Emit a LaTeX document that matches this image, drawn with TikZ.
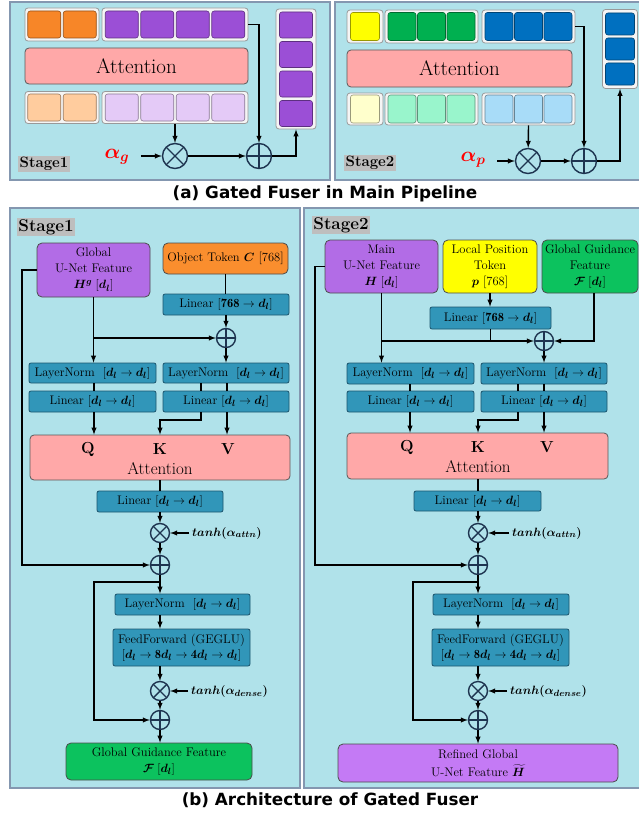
\documentclass[tikz,border=0pt]{standalone}
\usepackage{amsmath}
\usepackage{bm}
\usepackage{fontspec}
\usetikzlibrary{arrows}
\newfontfamily\capfont{DejaVu Sans}
\definecolor{panelbg}{RGB}{176,226,234}
\definecolor{panelline}{RGB}{132,151,176}
\definecolor{linfill}{RGB}{49,150,185}
\definecolor{linline}{RGB}{28,86,110}
\definecolor{attnfill}{RGB}{255,168,168}
\definecolor{opline}{RGB}{30,52,80}
\definecolor{hpurple}{RGB}{178,108,230}
\definecolor{rpurple}{RGB}{196,122,245}
\definecolor{objorange}{RGB}{250,142,46}
\definecolor{ggreen}{RGB}{12,194,94}
\definecolor{pyellow}{RGB}{255,255,0}
\definecolor{sqorange}{RGB}{247,134,40}
\definecolor{sqpurple}{RGB}{155,79,214}
\definecolor{sqlorange}{RGB}{255,204,158}
\definecolor{sqlpurple}{RGB}{228,202,247}
\definecolor{sqgreen}{RGB}{0,176,80}
\definecolor{sqblue}{RGB}{0,112,192}
\definecolor{sqlyellow}{RGB}{255,255,204}
\definecolor{sqlgreen}{RGB}{153,245,204}
\definecolor{sqlblue}{RGB}{168,220,248}
\definecolor{labgray}{RGB}{190,190,190}

\begin{document}
\begin{tikzpicture}[x=1pt,y=-1pt,
	panel/.style={draw=panelline, fill=panelbg, line width=1.5pt},
	tray/.style={draw=gray!80, fill=gray!8, rounded corners=3pt, line width=0.8pt, inner sep=0pt},
	tok/.style={rounded corners=2.5pt, line width=0.6pt, inner sep=0pt},
	stagelab/.style={fill=labgray, inner sep=1.5pt, font=\bfseries\fontsize{15}{16}\selectfont},
	linbox/.style={draw=linline, fill=linfill, rounded corners=2pt, line width=0.8pt, minimum height=21pt, inner sep=0pt, font=\fontsize{12.5}{15}\selectfont},
	attnbox/.style={draw=gray!70!black, fill=attnfill, rounded corners=4pt, line width=0.8pt, inner sep=0pt},
	featbox/.style={draw=black!70, rounded corners=5pt, line width=0.8pt, inner sep=0pt, align=center, font=\fontsize{12.5}{16}\selectfont},
	opcirc/.style={circle, draw=opline, line width=1.4pt, inner sep=0pt, minimum size=19pt},
	addop/.style={opcirc, path picture={\draw[opline, line width=1.4pt] (path picture bounding box.north) -- (path picture bounding box.south) (path picture bounding box.west) -- (path picture bounding box.east);}},
	mulop/.style={opcirc, path picture={\draw[opline, line width=1.4pt] (path picture bounding box.north west) -- (path picture bounding box.south east) (path picture bounding box.north east) -- (path picture bounding box.south west);}},
	arr/.style={-latex, line width=1.4pt},
	wire/.style={line width=1.4pt},
	gate/.style={anchor=west, inner sep=0pt, font=\fontsize{13}{14}\selectfont},
	qkv/.style={font=\bfseries\fontsize{16}{17}\selectfont}
	]
	\useasboundingbox (0,0) rectangle (639,816);
	\fill[white] (0,0) rectangle (639,816);

	\draw[panel] (10,2) rectangle (330,180);
	\node[tray, minimum width=74pt, minimum height=33pt] (a1ho) at (62,24.5) {};
	\node[tray, minimum width=146pt, minimum height=33pt] (a1hp) at (175,24.5) {};
	\node[tray, minimum width=74pt, minimum height=32pt] (a1bo) at (62,107.5) {};
	\node[tray, minimum width=146pt, minimum height=32pt] (a1bp) at (175,107.5) {};
	\foreach \i in {1,2} {
		\node[tok, minimum width=33pt, minimum height=27pt, fill=sqorange, draw=sqorange!60!black] (a1o\i) at ({62+(\i-1.5)*35.5},24.5) {};
		\node[tok, minimum width=33pt, minimum height=27pt, fill=sqlorange, draw=sqlorange!60!black] (a1lo\i) at ({62+(\i-1.5)*35.5},107.5) {};
	}
	\foreach \i in {1,...,4} {
		\node[tok, minimum width=33pt, minimum height=27pt, fill=sqpurple, draw=sqpurple!60!black] (a1p\i) at ({175+(\i-2.5)*35.5},24.5) {};
		\node[tok, minimum width=33pt, minimum height=27pt, fill=sqlpurple, draw=sqlpurple!60!black] (a1lp\i) at ({175+(\i-2.5)*35.5},107.5) {};
	}
	\node[attnbox, minimum width=223pt, minimum height=36pt, font=\fontsize{21}{22}\selectfont] (a1attn) at (136.5,66) {Attention};
	\node[tray, minimum width=40pt, minimum height=120pt] (a1col) at (296,69) {};
	\foreach \i/\y in {1/25,2/54.5,3/84,4/113.5}
		\node[tok, minimum width=33pt, minimum height=26pt, fill=sqpurple, draw=sqpurple!60!black] (a1c\i) at (296,\y) {};
	\node[mulop, minimum size=25pt] (a1mul) at (175,156) {};
	\node[addop, minimum size=25pt] (a1add) at (259,156) {};
	\node[text=red, font=\fontsize{20}{21}\selectfont] (a1alpha) at (117,157) {$\bm{\alpha_g}$};
	\node[stagelab] (a1stage) at (44,164) {Stage1};
	\draw[arr] ([xshift=8pt]a1alpha.east |- a1mul) -- (a1mul);
	\draw[arr] (a1bp.south) -- (a1mul);
	\draw[arr] (a1mul) -- (a1add);
	\draw[arr] (a1hp.east) -| (a1add);
	\draw[arr] (a1add) -| (a1col.south);

	\draw[panel] (335,2) rectangle (645,180);
	\node[tray, minimum width=36pt, minimum height=33pt] (a2hy) at (365,26.5) {};
	\node[tray, minimum width=93pt, minimum height=33pt] (a2hg) at (431.5,26.5) {};
	\node[tray, minimum width=93pt, minimum height=33pt] (a2hb) at (528.5,26.5) {};
	\node[tray, minimum width=36pt, minimum height=32pt] (a2by) at (365,109) {};
	\node[tray, minimum width=93pt, minimum height=32pt] (a2bg) at (431.5,109) {};
	\node[tray, minimum width=93pt, minimum height=32pt] (a2bb) at (528.5,109) {};
	\node[tok, minimum width=29pt, minimum height=28pt, fill=pyellow, draw=pyellow!60!black] (a2y) at (365,26.5) {};
	\node[tok, minimum width=29pt, minimum height=28pt, fill=sqlyellow, draw=sqlyellow!60!black] (a2ly) at (365,109) {};
	\foreach \i in {1,2,3} {
		\node[tok, minimum width=28pt, minimum height=28pt, fill=sqgreen, draw=sqgreen!60!black] (a2g\i) at ({431.5+(\i-2)*29.5},26.5) {};
		\node[tok, minimum width=28pt, minimum height=28pt, fill=sqblue, draw=sqblue!60!black] (a2b\i) at ({528.5+(\i-2)*29.5},26.5) {};
		\node[tok, minimum width=28pt, minimum height=28pt, fill=sqlgreen, draw=sqlgreen!60!black] (a2lg\i) at ({431.5+(\i-2)*29.5},109) {};
		\node[tok, minimum width=28pt, minimum height=28pt, fill=sqlblue, draw=sqlblue!60!black] (a2lb\i) at ({528.5+(\i-2)*29.5},109) {};
	}
	\node[attnbox, minimum width=225pt, minimum height=37pt, font=\fontsize{21}{22}\selectfont] (a2attn) at (459.5,68.5) {Attention};
	\node[tray, minimum width=35pt, minimum height=79pt] (a2col) at (620,49) {};
	\foreach \i/\y in {1/24,2/49,3/74}
		\node[tok, minimum width=29pt, minimum height=22pt, fill=sqblue, draw=sqblue!60!black] (a2c\i) at (620,\y) {};
	\node[mulop, minimum size=25pt] (a2mul) at (528,161) {};
	\node[addop, minimum size=25pt] (a2add) at (584,161) {};
	\node[text=red, font=\fontsize{20}{21}\selectfont] (a2alpha) at (473,160) {$\bm{\alpha_p}$};
	\node[stagelab] (a2stage) at (370,163) {Stage2};
	\draw[arr] ([xshift=8pt]a2alpha.east |- a2mul) -- (a2mul);
	\draw[arr] (a2bb.south) -- (a2mul);
	\draw[arr] (a2mul) -- (a2add);
	\draw[arr] (a2hb.east) -| (a2add);
	\draw[arr] (a2add) -| (a2col.south);

	\node[font=\capfont\bfseries\fontsize{16.8}{18}\selectfont] (capa) at (325,194) {(a) Gated Fuser in Main Pipeline};

	\draw[panel] (10,208) rectangle (300,788);
	\node[stagelab, font=\bfseries\fontsize{17}{18}\selectfont] (b1stage) at (46,227) {Stage1};
	\node[featbox, fill=hpurple, minimum width=113pt, minimum height=54pt] (hg) at (93.5,270) {Global\\U-Net Feature\\$\bm{H^g}\;[\bm{d_l}]$};
	\node[featbox, fill=objorange, minimum width=125pt, minimum height=31pt] (obj) at (225.5,258.5) {Object Token $\bm{C}$ [768]};
	\node[linbox, minimum width=126pt] (linC) at (226,304.5) {Linear $[\mathbf{768}\rightarrow\bm{d_l}]$};
	\node[addop] (addC) at (226,338) {};
	\node[linbox, minimum width=127pt, minimum height=20pt] (lnQ) at (92.5,373) {LayerNorm\ \ $[\bm{d_l}\rightarrow\bm{d_l}]$};
	\node[linbox, minimum width=126pt, minimum height=20pt] (lnKV) at (226,373) {LayerNorm\ \ $[\bm{d_l}\rightarrow\bm{d_l}]$};
	\node[linbox, minimum width=127pt] (linQ) at (92.5,401.5) {Linear $[\bm{d_l}\rightarrow\bm{d_l}]$};
	\node[linbox, minimum width=126pt] (linKV) at (226,401.5) {Linear $[\bm{d_l}\rightarrow\bm{d_l}]$};
	\node[attnbox, minimum width=260pt, minimum height=45pt] (attn) at (160,457.5) {};
	\node[qkv] (attnQ) at (88,449) {Q};
	\node[qkv] (attnK) at (160,449) {K};
	\node[qkv] (attnV) at (228,449) {V};
	\node[font=\fontsize{17}{18}\selectfont] (attnlab) at (160,469) {Attention};
	\node[linbox, minimum width=126pt] (linO) at (160,501.5) {Linear $[\bm{d_l}\rightarrow\bm{d_l}]$};
	\node[mulop] (mulA) at (160,533) {};
	\node[gate] (gA) at (192,533) {$\bm{tanh(\alpha_{attn})}$};
	\node[addop] (addA) at (160,565) {};
	\node[linbox, minimum width=135pt] (lnF) at (182.5,604.5) {LayerNorm\ \ $[\bm{d_l}\rightarrow\bm{d_l}]$};
	\node[linbox, minimum width=137pt, minimum height=37pt, align=center] (ff) at (181.5,647.5) {FeedForward (GEGLU)\\$[\bm{d_l}\rightarrow\mathbf{8}\bm{d_l}\rightarrow\mathbf{4}\bm{d_l}\rightarrow\bm{d_l}]$};
	\node[mulop] (mulF) at (160,691) {};
	\node[gate] (gF) at (191,691) {$\bm{tanh(\alpha_{dense})}$};
	\node[addop] (addF) at (160,720) {};
	\node[featbox, fill=ggreen, minimum width=186pt, minimum height=37pt] (gout) at (159,761.5) {Global Guidance Feature\\$\bm{\mathcal{F}}\;[\bm{d_l}]$};
	\coordinate (qcol) at (94,0);
	\coordinate (kcol) at (201,420);
	\coordinate (vcol) at (227,0);
	\coordinate (byA) at (22,0);
	\coordinate (brF) at (94,582);
	\draw[arr] (hg.south) -- (hg.south |- lnQ.north);
	\draw[arr] (hg.south |- addC) -- (addC);
	\draw[wire] (obj.south) -- (obj.south |- linC.north);
	\draw[arr] (linC) -- (addC);
	\draw[arr] (addC) -- (addC |- lnKV.north);
	\draw[wire] (qcol |- lnQ.south) -- (qcol |- linQ.north);
	\draw[wire] (kcol |- lnKV.south) -- (kcol |- linKV.north);
	\draw[wire] (vcol |- lnKV.south) -- (vcol |- linKV.north);
	\draw[arr] (qcol |- linQ.south) -- (qcol |- attn.north);
	\draw[arr] (kcol |- linKV.south) -- (kcol) -| (attn.north);
	\draw[arr] (vcol |- linKV.south) -- (vcol |- attn.north);
	\draw[wire] (attn.south) -- (linO.north);
	\draw[arr] (linO) -- (mulA);
	\draw[arr] ([xshift=-3pt]gA.west) -- (mulA);
	\draw[arr] (mulA) -- (addA);
	\draw[arr] (hg.west) -| (byA |- addA) -- (addA);
	\draw[arr] (addA) -- (addA |- lnF.north);
	\draw[arr] (addA |- brF) -- (brF) |- (addF);
	\draw[arr] (addA |- lnF.south) -- (addA |- ff.north);
	\draw[arr] (mulF |- ff.south) -- (mulF);
	\draw[arr] ([xshift=-3pt]gF.west) -- (mulF);
	\draw[arr] (mulF) -- (addF);
	\draw[arr] (addF) -- (addF |- gout.north);

	\draw[panel] (304,208) rectangle (645,788);
	\node[stagelab, font=\bfseries\fontsize{17}{18}\selectfont] (b2stage) at (341,225) {Stage2};
	\node[featbox, fill=hpurple, minimum width=113pt, minimum height=53pt] (hm) at (381.5,266.5) {Main\\U-Net Feature\\$\bm{H}\;[\bm{d_l}]$};
	\node[featbox, fill=pyellow, minimum width=94pt, minimum height=53pt] (pos) at (490,266.5) {Local Position\\Token\\$\bm{p}$ [768]};
	\node[featbox, fill=ggreen, minimum width=96pt, minimum height=53pt] (gg) at (590,266.5) {Global Guidance\\Feature\\$\bm{\mathcal{F}}\;[\bm{d_l}]$};
	\node[linbox, minimum width=121pt, minimum height=22pt] (linP) at (490.5,318) {Linear $[\mathbf{768}\rightarrow\bm{d_l}]$};
	\node[addop] (addP) at (544,341) {};
	\node[linbox, minimum width=127pt] (lnQ2) at (410.5,373.5) {LayerNorm\ \ $[\bm{d_l}\rightarrow\bm{d_l}]$};
	\node[linbox, minimum width=126pt] (lnKV2) at (544,373.5) {LayerNorm\ \ $[\bm{d_l}\rightarrow\bm{d_l}]$};
	\node[linbox, minimum width=127pt] (linQ2) at (410.5,401.5) {Linear $[\bm{d_l}\rightarrow\bm{d_l}]$};
	\node[linbox, minimum width=126pt] (linKV2) at (544,401.5) {Linear $[\bm{d_l}\rightarrow\bm{d_l}]$};
	\node[attnbox, minimum width=261pt, minimum height=46pt] (attn2) at (477.5,456) {};
	\node[qkv] (attnQ2) at (407,447) {Q};
	\node[qkv] (attnK2) at (478,447) {K};
	\node[qkv] (attnV2) at (547,447) {V};
	\node[font=\fontsize{17}{18}\selectfont] (attnlab2) at (478,467) {Attention};
	\node[linbox, minimum width=127pt, minimum height=20pt] (linO2) at (477.5,501) {Linear $[\bm{d_l}\rightarrow\bm{d_l}]$};
	\node[mulop] (mulA2) at (478,533) {};
	\node[gate] (gA2) at (512,533) {$\bm{tanh(\alpha_{attn})}$};
	\node[addop] (addA2) at (478,565) {};
	\node[linbox, minimum width=136pt] (lnF2) at (501,604.5) {LayerNorm\ \ $[\bm{d_l}\rightarrow\bm{d_l}]$};
	\node[linbox, minimum width=137pt, minimum height=37pt, align=center] (ff2) at (500.5,647.5) {FeedForward (GEGLU)\\$[\bm{d_l}\rightarrow\mathbf{8}\bm{d_l}\rightarrow\mathbf{4}\bm{d_l}\rightarrow\bm{d_l}]$};
	\node[mulop] (mulF2) at (478,691) {};
	\node[gate] (gF2) at (510,691) {$\bm{tanh(\alpha_{dense})}$};
	\node[addop] (addF2) at (478,720) {};
	\node[featbox, fill=rpurple, minimum width=280pt, minimum height=38pt, font=\fontsize{12.5}{18}\selectfont] (refined) at (478,763) {Refined Global\\U-Net Feature $\bm{\widetilde{H}}$};
	\coordinate (qcol2) at (410,0);
	\coordinate (kcol2) at (518,420);
	\coordinate (vcol2) at (544,0);
	\coordinate (gcol2) at (594,0);
	\coordinate (byA2) at (315,0);
	\coordinate (brF2) at (413,582);
	\draw[arr] (hm.south) -- (hm.south |- lnQ2.north);
	\draw[arr] (hm.south |- addP) -- (addP);
	\draw[arr] (pos.south) -- (pos.south |- linP.north);
	\draw[wire] (linP.south) -- (linP.south |- addP);
	\draw[arr] (gcol2 |- gg.south) |- (addP);
	\draw[arr] (addP) -- (addP |- lnKV2.north);
	\draw[wire] (qcol2 |- lnQ2.south) -- (qcol2 |- linQ2.north);
	\draw[wire] (kcol2 |- lnKV2.south) -- (kcol2 |- linKV2.north);
	\draw[wire] (vcol2 |- lnKV2.south) -- (vcol2 |- linKV2.north);
	\draw[arr] (qcol2 |- linQ2.south) -- (qcol2 |- attn2.north);
	\draw[arr] (kcol2 |- linKV2.south) -- (kcol2) -| (addA2 |- attn2.north);
	\draw[arr] (vcol2 |- linKV2.south) -- (vcol2 |- attn2.north);
	\draw[wire] (addA2 |- attn2.south) -- (addA2 |- linO2.north);
	\draw[arr] (addA2 |- linO2.south) -- (mulA2);
	\draw[arr] ([xshift=-3pt]gA2.west) -- (mulA2);
	\draw[arr] (mulA2) -- (addA2);
	\draw[arr] (hm.west) -| (byA2 |- addA2) -- (addA2);
	\draw[arr] (addA2) -- (addA2 |- lnF2.north);
	\draw[arr] (addA2 |- brF2) -- (brF2) |- (addF2);
	\draw[arr] (addA2 |- lnF2.south) -- (addA2 |- ff2.north);
	\draw[arr] (mulF2 |- ff2.south) -- (mulF2);
	\draw[arr] ([xshift=-3pt]gF2.west) -- (mulF2);
	\draw[arr] (mulF2) -- (addF2);
	\draw[arr] (addF2) -- (addF2 |- refined.north);

	\node[font=\capfont\bfseries\fontsize{16.8}{18}\selectfont] (capb) at (330,800) {(b) Architecture of Gated Fuser};
\end{tikzpicture}
\end{document}
